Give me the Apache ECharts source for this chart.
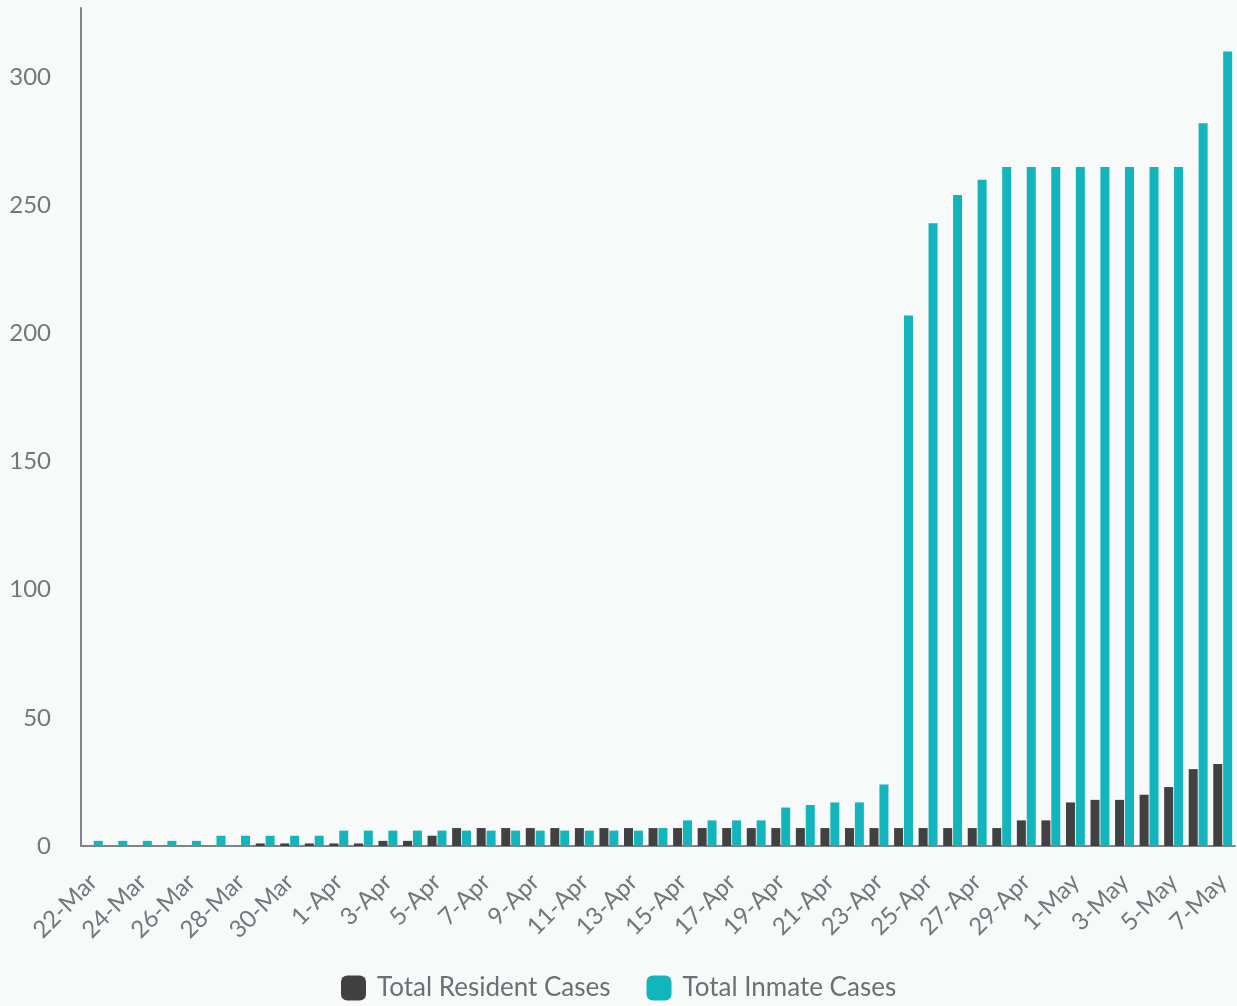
<!DOCTYPE html>
<html>
<head>
<meta charset="utf-8">
<script src="https://cdn.jsdelivr.net/npm/echarts@6/dist/echarts.min.js"></script>
<style>
  html, body { margin: 0; padding: 0; background: #f8f9f9; }
  #chart { width: 1237px; height: 1006px; }
</style>
</head>
<body>
<div id="chart"></div>
<script>
// daily dates, 22-Mar .. 7-May
const categories = [
  '22-Mar', '23-Mar', '24-Mar', '25-Mar', '26-Mar', '27-Mar', '28-Mar', '29-Mar', '30-Mar', '31-Mar',
  '1-Apr', '2-Apr', '3-Apr', '4-Apr', '5-Apr', '6-Apr', '7-Apr', '8-Apr', '9-Apr', '10-Apr',
  '11-Apr', '12-Apr', '13-Apr', '14-Apr', '15-Apr', '16-Apr', '17-Apr', '18-Apr', '19-Apr', '20-Apr',
  '21-Apr', '22-Apr', '23-Apr', '24-Apr', '25-Apr', '26-Apr', '27-Apr', '28-Apr', '29-Apr', '30-Apr',
  '1-May', '2-May', '3-May', '4-May', '5-May', '6-May', '7-May'
];

const residentCases = [
  0, 0, 0, 0, 0, 0, 0, 1, 1, 1,
  1, 1, 2, 2, 4, 7, 7, 7, 7, 7,
  7, 7, 7, 7, 7, 7, 7, 7, 7, 7,
  7, 7, 7, 7, 7, 7, 7, 7, 10, 10,
  17, 18, 18, 20, 23, 30, 32
];

const inmateCases = [
  2, 2, 2, 2, 2, 4, 4, 4, 4, 4,
  6, 6, 6, 6, 6, 6, 6, 6, 6, 6,
  6, 6, 6, 7, 10, 10, 10, 10, 15, 16,
  17, 17, 24, 207, 243, 254, 260, 265, 265, 265,
  265, 265, 265, 265, 265, 282, 310
];

const chart = echarts.init(document.getElementById('chart'));

const axisColor = '#7f8489';
const labelColor = '#73777c';

const option = {
  backgroundColor: '#f8f9f9',
  textStyle: { fontFamily: 'Lato' },
  grid: {
    left: 81,
    right: 2,
    top: 8,
    bottom: 160
  },
  legend: {
    left: 336,
    bottom: 0,
    itemWidth: 25,
    itemHeight: 25,
    itemGap: 36,
    icon: 'roundRect',
    textStyle: {
      fontFamily: 'Lato',
      fontSize: 26,
      color: '#6b7075',
      padding: [0, 0, 0, 6]
    },
    data: ['Total Resident Cases', 'Total Inmate Cases']
  },
  xAxis: {
    type: 'category',
    data: categories,
    axisLine: { lineStyle: { color: axisColor, width: 2 } },
    axisTick: { show: false },
    axisLabel: {
      interval: 1,
      rotate: 45,
      fontSize: 24,
      color: labelColor,
      margin: 32
    }
  },
  yAxis: {
    type: 'value',
    min: 0,
    max: 327,
    interval: 50,
    splitLine: { show: false },
    axisLine: { show: true, lineStyle: { color: axisColor, width: 2 } },
    axisTick: { show: false },
    axisLabel: {
      showMaxLabel: false,
      align: 'right',
      fontSize: 24,
      color: labelColor,
      margin: 30
    }
  },
  series: [
    {
      name: 'Total Resident Cases',
      type: 'bar',
      data: residentCases,
      barWidth: 9,
      barGap: '10%',
      itemStyle: { color: '#414141' }
    },
    {
      name: 'Total Inmate Cases',
      type: 'bar',
      data: inmateCases,
      barWidth: 9,
      itemStyle: { color: '#13b5bc' }
    }
  ]
};

chart.setOption(option);
</script>
</body>
</html>
